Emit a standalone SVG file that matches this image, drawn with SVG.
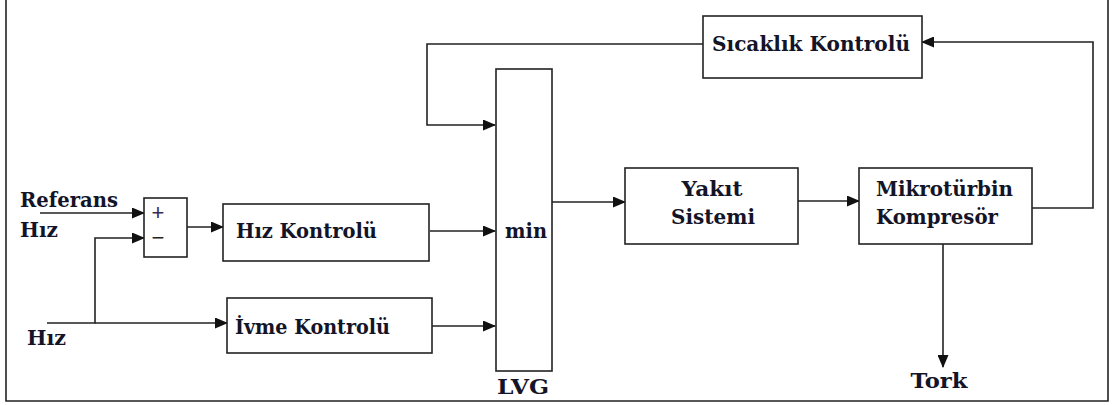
<svg xmlns="http://www.w3.org/2000/svg" width="1115" height="405" viewBox="0 0 1115 405">
<defs>
<marker id="ah" markerWidth="13" markerHeight="11" refX="12" refY="5.5" orient="auto" markerUnits="userSpaceOnUse">
<path d="M0,0 L13,5.5 L0,11 z" fill="#111"/>
</marker>
<style>
.box{fill:#fff;stroke:#222;stroke-width:1.6}
.ln{fill:none;stroke:#222;stroke-width:1.6}
.c{text-anchor:middle}
</style>
</defs>
<rect width="1115" height="405" fill="#fff"/>
<path class="ln" d="M6,-2 V401 H1108 V-2" stroke="#444"/>
<g id="connectors">
<path class="ln" d="M40,213 H144" marker-end="url(#ah)"/>
<path class="ln" d="M47,323 H95 V238 H144" marker-end="url(#ah)"/>
<path class="ln" d="M95,323 H227" marker-end="url(#ah)"/>
<path class="ln" d="M187,227 H223" marker-end="url(#ah)"/>
<path class="ln" d="M430,231 H495" marker-end="url(#ah)"/>
<path class="ln" d="M432,326 H495" marker-end="url(#ah)"/>
<path class="ln" d="M703,44 H427 V125 H495" marker-end="url(#ah)"/>
<path class="ln" d="M552,202 H625" marker-end="url(#ah)"/>
<path class="ln" d="M798,201 H859" marker-end="url(#ah)"/>
<path class="ln" d="M1032,208 H1093 V42 H922" marker-end="url(#ah)"/>
<path class="ln" d="M943,244 V367" marker-end="url(#ah)"/>
</g>
<g font-family="'DejaVu Serif', 'Liberation Serif', serif" font-weight="bold" font-size="21" fill="#141428">
<g id="inputs">
<text x="20" y="207" textLength="98" lengthAdjust="spacingAndGlyphs">Referans</text>
<text x="20" y="237" textLength="38" lengthAdjust="spacingAndGlyphs">Hız</text>
<text x="27" y="345" textLength="39" lengthAdjust="spacingAndGlyphs">Hız</text>
</g>
<g id="sum">
<rect class="box" x="144" y="198" width="43" height="59"/>
<text x="158" y="220" font-family="Liberation Sans, Arial, sans-serif" font-weight="normal" font-size="22" fill="#3a2a5a" text-anchor="middle">+</text>
<text x="158" y="245" font-family="Liberation Sans, Arial, sans-serif" font-weight="normal" font-size="22" fill="#222" text-anchor="middle">−</text>
</g>
<g id="hiz-kontrolu">
<rect class="box" x="223" y="204" width="206" height="57"/>
<text x="236" y="238" textLength="141" lengthAdjust="spacingAndGlyphs">Hız Kontrolü</text>
</g>
<g id="ivme-kontrolu">
<rect class="box" x="227" y="298" width="205" height="55"/>
<text x="235" y="334" textLength="155" lengthAdjust="spacingAndGlyphs">İvme Kontrolü</text>
</g>
<g id="lvg">
<rect class="box" x="496" y="69" width="56" height="302"/>
<text class="c" x="526" y="238" textLength="42" lengthAdjust="spacingAndGlyphs">min</text>
<text class="c" x="523" y="394" textLength="52" lengthAdjust="spacingAndGlyphs">LVG</text>
</g>
<g id="sicaklik">
<rect class="box" x="703" y="16" width="219" height="62"/>
<text x="712" y="51" textLength="198" lengthAdjust="spacingAndGlyphs">Sıcaklık Kontrolü</text>
</g>
<g id="yakit">
<rect class="box" x="625" y="168" width="173" height="76"/>
<text class="c" x="712" y="196" textLength="61" lengthAdjust="spacingAndGlyphs">Yakıt</text>
<text class="c" x="713" y="224" textLength="84" lengthAdjust="spacingAndGlyphs">Sistemi</text>
</g>
<g id="mikroturbin">
<rect class="box" x="859" y="168" width="173" height="76"/>
<text x="876" y="196" textLength="137" lengthAdjust="spacingAndGlyphs">Mikrotürbin</text>
<text x="876" y="224" textLength="122" lengthAdjust="spacingAndGlyphs">Kompresör</text>
</g>
<g id="tork">
<text class="c" x="939" y="388" textLength="57" lengthAdjust="spacingAndGlyphs">Tork</text>
</g>
</g>
</svg>
